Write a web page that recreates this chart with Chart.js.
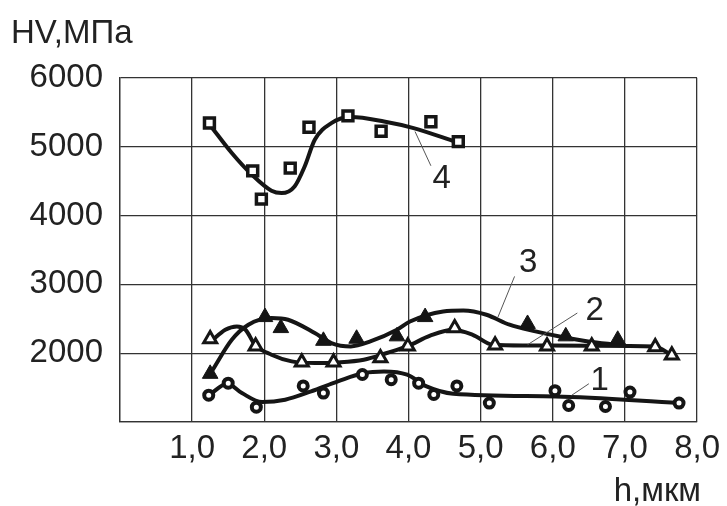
<!DOCTYPE html>
<html>
<head>
<meta charset="utf-8">
<script src="https://cdn.jsdelivr.net/npm/chart.js@4"></script>
<style>
  html, body { margin: 0; padding: 0; background: #fff; }
  #wrap { width: 727px; height: 506px; }
</style>
</head>
<body>
<div id="wrap"><canvas id="hv" width="727" height="506"></canvas></div>
<script>
// measured points, h (мкм) and HV (МПа)
const h1 = [1.23, 1.50, 1.89, 2.54, 2.82, 3.36, 3.76, 4.14, 4.35, 4.67, 5.12, 6.03, 6.22, 6.73, 7.07, 7.75];
const hv1 = [1390, 1565, 1215, 1525, 1420, 1690, 1615, 1565, 1400, 1525, 1275, 1455, 1240, 1225, 1435, 1275];

const h2 = [1.25, 1.88, 2.52, 2.96, 3.61, 3.99, 4.64, 5.20, 5.92, 6.54, 7.42, 7.65];
const hv2 = [2205, 2100, 1870, 1870, 1930, 2100, 2365, 2115, 2100, 2100, 2090, 1970];

const h3 = [1.25, 2.01, 2.23, 2.82, 3.28, 3.84, 4.23, 5.65, 6.18, 6.90];
const hv3 = [1700, 2525, 2365, 2180, 2210, 2245, 2525, 2425, 2245, 2195];

const h4 = [1.24, 1.84, 1.96, 2.36, 2.62, 3.16, 3.62, 4.31, 4.69];
const hv4 = [5345, 4650, 4240, 4690, 5285, 5450, 5225, 5365, 5075];

// fitted curves
const c1h = [1.23, 1.49, 1.69, 1.97, 2.29, 2.65, 3.02, 3.38, 3.66, 3.98, 4.25, 4.62, 6.04, 7.75];
const c1hv = [1387, 1556, 1421, 1290, 1324, 1445, 1590, 1712, 1735, 1687, 1517, 1411, 1372, 1276];

const c2h = [1.26, 1.46, 1.62, 1.74, 1.87, 2.10, 2.38, 2.70, 3.02, 3.38, 3.70, 3.98, 4.30, 4.62, 4.89, 5.17, 5.62, 6.54, 7.41, 7.64];
const c2hv = [2171, 2341, 2389, 2341, 2123, 1978, 1881, 1857, 1866, 1905, 2003, 2099, 2254, 2341, 2268, 2123, 2113, 2110, 2099, 1978];

const c3h = [1.28, 1.55, 1.78, 2.10, 2.33, 2.70, 2.93, 3.20, 3.47, 3.84, 4.02, 4.48, 4.76, 5.08, 5.40, 5.76, 6.13, 6.49, 6.90];
const c3hv = [1750, 2196, 2414, 2511, 2486, 2293, 2148, 2099, 2171, 2341, 2460, 2607, 2621, 2559, 2414, 2317, 2235, 2171, 2120];

const c4h = [1.26, 1.55, 1.83, 2.10, 2.24, 2.42, 2.56, 2.70, 2.93, 3.20, 3.66, 4.07, 4.66];
const c4hv = [5300, 4910, 4593, 4361, 4327, 4424, 4714, 5102, 5344, 5432, 5368, 5272, 5070];

const xTicks = ["1,0", "2,0", "3,0", "4,0", "5,0", "6,0", "7,0", "8,0"];
const yTicks = ["2000", "3000", "4000", "5000", "6000"];
const curveNames = ["1", "2", "3", "4"];

const ink = "#151515";
const font = "'Liberation Sans', Arial, sans-serif";

function pts(xs, ys) {
  return xs.map((x, i) => ({ x: x, y: ys[i] }));
}

function curve(xs, ys) {
  return {
    type: "line",
    data: pts(xs, ys),
    borderColor: ink,
    borderWidth: 4,
    pointRadius: 0,
    fill: false,
    cubicInterpolationMode: "monotone",
    order: 2,
  };
}

function marks(xs, ys, style, radius, filled, bw) {
  return {
    type: "scatter",
    data: pts(xs, ys),
    pointStyle: style,
    pointRadius: radius,
    pointBorderWidth: bw,
    borderWidth: bw,
    pointBorderColor: ink,
    borderColor: ink,
    pointBackgroundColor: filled ? ink : "#fff",
    backgroundColor: filled ? ink : "#fff",
    showLine: false,
    order: 1,
  };
}

// label anchors and leader lines, in data units
const callouts = [
  { text: curveNames[0], at: [6.65, 1600], from: [6.50, 1556], to: [6.26, 1387] },
  { text: curveNames[1], at: [6.58, 2620], from: [6.34, 2584], to: [5.65, 2123] },
  { text: curveNames[2], at: [5.66, 3310], from: [5.47, 3116], to: [5.24, 2526] },
  { text: curveNames[3], at: [4.46, 4530], from: [4.31, 4724], to: [4.09, 5222] },
];

const extras = {
  id: "extras",
  afterDraw(chart) {
    const ctx = chart.ctx;
    const xs = chart.scales.x;
    const ys = chart.scales.y;
    ctx.save();
    ctx.fillStyle = "#222";
    ctx.font = "33px " + font;
    ctx.textBaseline = "alphabetic";
    ctx.textAlign = "left";
    ctx.fillText("HV,МПа", 11, 43);
    ctx.textAlign = "right";
    ctx.fillText("h,мкм", 701, 501);

    ctx.strokeStyle = "#555";
    ctx.lineWidth = 1;
    ctx.textAlign = "center";
    ctx.textBaseline = "middle";
    callouts.forEach((c) => {
      ctx.beginPath();
      ctx.moveTo(xs.getPixelForValue(c.from[0]), ys.getPixelForValue(c.from[1]));
      ctx.lineTo(xs.getPixelForValue(c.to[0]), ys.getPixelForValue(c.to[1]));
      ctx.stroke();
      ctx.fillText(c.text, xs.getPixelForValue(c.at[0]), ys.getPixelForValue(c.at[1]));
    });
    ctx.restore();
  },
};

new Chart(document.getElementById("hv"), {
  data: {
    datasets: [
      curve(c1h, c1hv),
      curve(c2h, c2hv),
      curve(c3h, c3hv),
      curve(c4h, c4hv),
      marks(h1, hv1, "circle", 4.5, false, 4),
      marks(h2, hv2, "triangle", 7.5, false, 3),
      marks(h3, hv3, "triangle", 9, true, 1),
      marks(h4, hv4, "rect", 7, false, 3.5),
    ],
  },
  options: {
    responsive: false,
    animation: false,
    layout: { padding: { top: 78, right: 24, left: 0, bottom: 0 } },
    plugins: {
      legend: { display: false },
      tooltip: { enabled: false },
    },
    scales: {
      x: {
        type: "linear",
        min: 0,
        max: 8,
        afterFit: (s) => { s.height = 84; },
        grid: { color: "#333", lineWidth: 1.3, drawTicks: false },
        border: { color: "#333", width: 1.3 },
        ticks: {
          stepSize: 1,
          padding: 7,
          color: "#222",
          font: { family: font, size: 33 },
          maxRotation: 0,
          callback: (v) => (v >= 1 ? xTicks[v - 1] : ""),
        },
      },
      y: {
        type: "linear",
        min: 1000,
        max: 6000,
        afterFit: (s) => { s.width = 120; },
        grid: { color: "#333", lineWidth: 1.3, drawTicks: false },
        border: { color: "#333", width: 1.3 },
        ticks: {
          stepSize: 1000,
          padding: 17,
          color: "#222",
          font: { family: font, size: 33 },
          callback: (v) => (v >= 2000 ? yTicks[v / 1000 - 2] : ""),
        },
      },
    },
  },
  plugins: [extras],
});
</script>
</body>
</html>
